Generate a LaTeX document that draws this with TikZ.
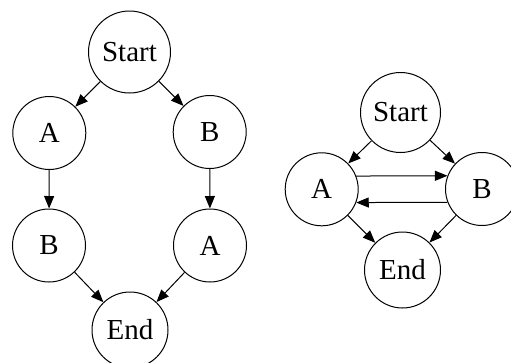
\documentclass[tikz,border=0pt]{standalone}
\usepackage{fontspec}
\setmainfont{Liberation Serif}
\usetikzlibrary{arrows.meta}
\begin{document}
\begin{tikzpicture}[x=1pt,y=-1pt,
  state/.style={circle,draw=black,line width=1pt,inner sep=0pt,
    minimum size=73pt,font=\fontsize{29}{31}\selectfont},
  bigstate/.style={state,minimum size=82pt},
  endstate/.style={state,minimum size=76pt},
  edge/.style={line width=1pt,-{Triangle[length=12.5pt,width=10pt]}}]
\useasboundingbox (0,0) rectangle (511,362);

% sequence A then B, and sequence B then A
\node[bigstate] (s1) at (129.5,52) {Start};
\node[state] (a1) at (49.3,133) {A};
\node[state] (b1) at (209.7,132) {B};
\node[state] (b2) at (49,245.5) {B};
\node[state] (a2) at (210,245.5) {A};
\node[endstate] (e1) at (130,330) {End};

\draw[edge] (s1) -- (a1);
\draw[edge] (s1) -- (b1);
\draw[edge] (a1) -- (b2);
\draw[edge] (b1) -- (a2);
\draw[edge] (b2) -- (e1);
\draw[edge] (a2) -- (e1);

% A and B running concurrently
\node[bigstate,minimum size=80pt] (s2) at (400.5,112.5) {Start};
\node[state] (a3) at (321.7,189.3) {A};
\node[state] (b3) at (482,189) {B};
\node[endstate] (e2) at (402.5,270) {End};

\draw[edge] (s2) -- (a3);
\draw[edge] (s2) -- (b3);
\draw[edge] (a3.21) -- (b3.159);
\draw[edge] (b3.201) -- (a3.339);
\draw[edge] (a3) -- (e2);
\draw[edge] (b3) -- (e2);
\end{tikzpicture}
\end{document}
